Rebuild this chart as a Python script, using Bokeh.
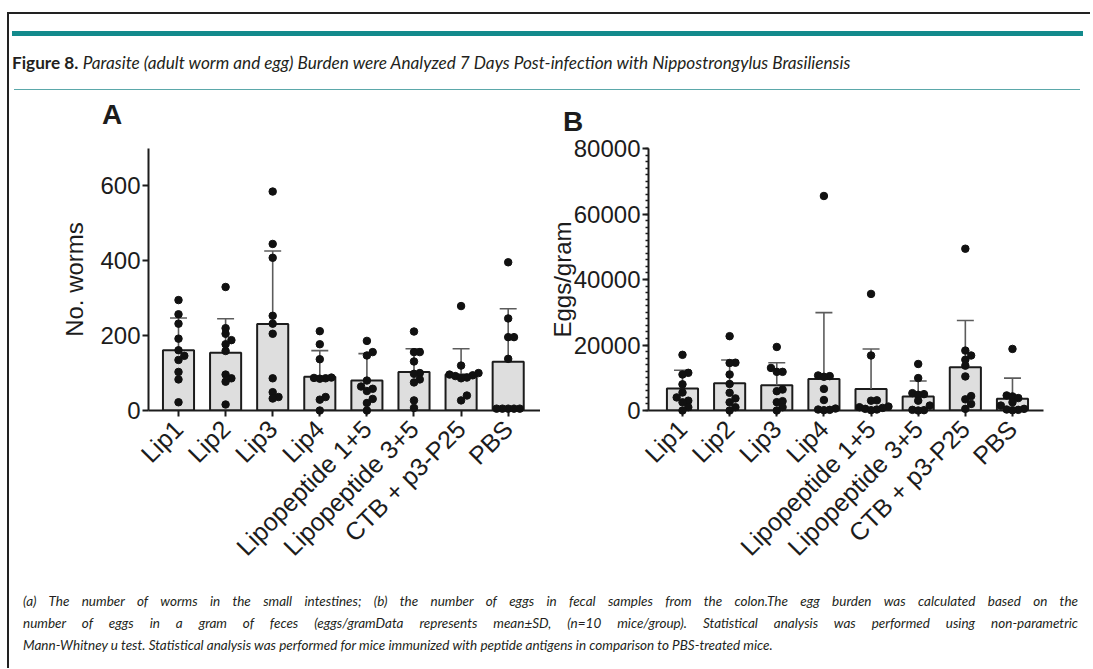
import math
from bokeh.plotting import figure
from bokeh.models import Range1d, FixedTicker, Div
from bokeh.layouts import column, row
from bokeh.embed import file_html
from bokeh.resources import INLINE

# ---------------- data ----------------
groups = ["Lip1", "Lip2", "Lip3", "Lip4", "Lipopeptide 1+5",
          "Lipopeptide 3+5", "CTB + p3-P25", "PBS"]

# Panel A: number of worms
worms_mean = [161, 154, 231, 90, 80, 103, 96, 130]
worms_sd = [86, 91, 195, 70, 72, 62, 69, 142]
worms_lip1 = [295, 257, 232, 192, 161, 146, 135, 103, 83, 22]
worms_lip2 = [330, 220, 205, 188, 177, 159, 96, 86, 77, 16]
worms_lip3 = [585, 445, 408, 253, 232, 205, 86, 49, 36, 32]
worms_lip4 = [212, 177, 137, 88, 87, 86, 85, 36, 29, 0]
worms_lp15 = [186, 156, 147, 80, 64, 58, 52, 31, 20, 0]
worms_lp35 = [211, 156, 156, 131, 100, 98, 83, 75, 27, 7]
worms_ctb = [279, 120, 100, 96, 94, 92, 88, 86, 40, 27]
worms_pbs = [396, 246, 196, 196, 138, 5, 5, 5, 5, 5]
worms_points = [worms_lip1, worms_lip2, worms_lip3, worms_lip4,
                worms_lp15, worms_lp35, worms_ctb, worms_pbs]
worm_ticks = [0, 200, 400, 600]
worm_ymax = 700

# Panel B: eggs per gram
eggs_mean = [6700, 8350, 7700, 9600, 6600, 4300, 13200, 3560]
eggs_sd = [5600, 7050, 6900, 20300, 12200, 4700, 14300, 6340]
eggs_lip1 = [17000, 11500, 11000, 8000, 5500, 4000, 3000, 2500, 1000, 0]
eggs_lip2 = [22700, 14600, 14500, 11000, 8100, 5400, 3700, 2500, 1000, 0]
eggs_lip3 = [19400, 13000, 11800, 11800, 6400, 5900, 2850, 2550, 1000, 0]
eggs_lip4 = [65500, 10700, 10500, 10300, 6600, 3200, 600, 300, 200, 100]
eggs_lp15 = [35600, 16800, 3100, 3000, 1200, 1000, 800, 500, 300, 100]
eggs_lp35 = [14200, 9900, 5300, 5000, 4800, 3000, 1500, 200, 100, 0]
eggs_ctb = [49400, 18300, 16800, 15500, 13700, 10400, 4400, 3400, 2000, 500]
eggs_pbs = [18800, 4600, 4300, 3800, 2500, 1500, 500, 300, 200, 100]
eggs_points = [eggs_lip1, eggs_lip2, eggs_lip3, eggs_lip4,
               eggs_lp15, eggs_lp35, eggs_ctb, eggs_pbs]
egg_ticks = [0, 20000, 40000, 60000, 80000]
egg_minor_step = 2000
egg_ymax = 80000

panel_letters = ["A", "B"]
title_bold = "Figure 8."
title_italic = ("Parasite (adult worm and egg) Burden were Analyzed 7 Days "
                "Post-infection with Nippostrongylus Brasiliensis")
caption_lines = [
    "(a) The number of worms in the small intestines; (b) the number of eggs in fecal samples "
    "from the colon.The egg burden was calculated based on the",
    "number of eggs in a gram of feces (eggs/gramData represents mean\u00b1SD, (n=10 mice/group). "
    "Statistical analysis was performed using non-parametric",
    "Mann-Whitney u test. Statistical analysis was performed for mice immunized with peptide "
    "antigens in comparison to PBS-treated mice.",
]

# ---------------- styling ----------------
FONT = "Liberation Sans"
INK = "#1c1c1c"
MBT, MBB = 12, 164  # top/bottom borders of the panels
FRAME_H = 262
PH = MBT + FRAME_H + MBB   # panel figure height
HEAD_H, CAP_H = 136, 94
W = 1090
X0 = 7              # x of the frame's left rule


def swarm_offsets(vals, py, pxcat, step=5.8, mind=5.5):
    """simple beeswarm: spread overlapping dots horizontally (in pixels)"""
    n = len(vals)
    offs = [0.0] * n
    placed = []
    order = sorted(range(n), key=lambda i: vals[i])
    cands = [0]
    for m in range(1, 14):
        cands += [m, -m]
    for i in order:
        y = vals[i] * py
        x = 0.0
        for c in cands:
            x = c * step
            if all((x - a) ** 2 + (y - b) ** 2 >= mind ** 2 for a, b in placed):
                break
        placed.append((x, y))
        offs[i] = x / pxcat
    return offs


def panel(means, sds, pts, ymax, ticks, ylabel, xr, width, mbl, mbr,
          minor=None, label_standoff=5):
    p = figure(width=width, height=PH, x_range=Range1d(*xr), y_range=Range1d(0, ymax),
               output_backend="svg", toolbar_location=None, title=None,
               min_border_left=mbl, min_border_right=mbr,
               min_border_top=MBT, min_border_bottom=MBB)
    frame_w = width - mbl - mbr
    pxcat = frame_w / (xr[1] - xr[0])
    pyu = FRAME_H / ymax
    xs = list(range(1, len(groups) + 1))

    p.vbar(x=xs, top=means, bottom=0, width=0.66, fill_color="#dedede",
           line_color=INK, line_width=2)
    tops = [m + s for m, s in zip(means, sds)]
    p.segment(x0=xs, y0=means, x1=xs, y1=tops, line_color="#5c5c5c", line_width=1.6)
    p.segment(x0=[x - 0.18 for x in xs], y0=tops, x1=[x + 0.18 for x in xs], y1=tops,
              line_color="#5c5c5c", line_width=1.6)

    dx, dy = [], []
    for i, vals in enumerate(pts):
        offs = swarm_offsets(vals, pyu, pxcat)
        dx += [xs[i] + o for o in offs]
        dy += vals
    p.scatter(dx, dy, size=7.5, color="#111111", level="overlay")

    p.xgrid.visible = False
    p.ygrid.visible = False
    p.outline_line_color = None
    p.background_fill_color = "white"
    p.border_fill_color = "white"

    p.xaxis.ticker = FixedTicker(ticks=xs)
    p.xaxis.major_label_overrides = {x: g for x, g in zip(xs, groups)}
    p.xaxis.major_label_orientation = math.pi / 4
    if minor is not None:
        p.yaxis.ticker = FixedTicker(ticks=ticks, minor_ticks=minor)
    else:
        p.yaxis.ticker = FixedTicker(ticks=ticks)
    p.yaxis.axis_label = ylabel
    for ax in p.axis:
        ax.axis_line_width = 2
        ax.axis_line_color = INK
        ax.major_tick_line_width = 2
        ax.major_tick_line_color = INK
        ax.major_tick_out = 6
        ax.major_tick_in = 0
        ax.minor_tick_line_color = INK
        ax.minor_tick_line_width = 1.5
        ax.minor_tick_out = 3
        ax.minor_tick_in = 0
        ax.major_label_text_font = FONT
        ax.major_label_text_color = INK
        ax.axis_label_text_font = FONT
        ax.axis_label_text_font_size = "24px"
        ax.axis_label_text_font_style = "normal"
        ax.axis_label_text_color = INK
    p.yaxis.major_label_text_font_size = "24px"
    p.yaxis.major_label_standoff = 2
    p.yaxis.axis_label_standoff = label_standoff
    p.xaxis.major_label_text_font_size = "25px"
    p.xaxis.major_label_standoff = 8
    if minor is None:
        p.yaxis.minor_tick_line_color = None
    p.xaxis.minor_tick_line_color = None
    return p


STRIP_W = X0 + 2
pA = panel(worms_mean, worms_sd, worms_points, worm_ymax, worm_ticks, "No. worms",
           (0.363, 8.686), 540 - STRIP_W, 148 - STRIP_W, 0, label_standoff=9)
egg_minor = list(range(0, egg_ymax + 1, egg_minor_step))
pB = panel(eggs_mean, eggs_sd, eggs_points, egg_ymax, egg_ticks, "Eggs/gram",
           (0.279, 8.658), 545, 108, 42, minor=egg_minor, label_standoff=-5)

letter_css = (f"position:absolute;font-family:'{FONT}';font-weight:bold;font-size:28px;"
              f"line-height:22px;color:{INK};")
header_html = f"""
<div style="position:relative;width:{W}px;height:{HEAD_H}px;overflow:hidden;background:white;">
  <div style="position:absolute;left:{X0}px;top:12px;width:{W - X0}px;height:2px;background:#222;"></div>
  <div style="position:absolute;left:{X0}px;top:12px;width:2px;height:{HEAD_H}px;background:#222;"></div>
  <div style="position:absolute;left:12px;top:31px;width:1071px;height:5px;background:#138a8c;"></div>
  <div style="position:absolute;left:12px;top:51px;white-space:nowrap;font-family:Lato;font-size:17.2px;color:#231f20;">
    <span style="font-weight:bold;">{title_bold}</span> <span style="font-style:italic;">{title_italic}</span>
  </div>
  <div style="position:absolute;left:14px;top:89px;width:1066px;height:1px;background:#5ba8aa;"></div>
  <div style="{letter_css}left:102px;top:104px;">{panel_letters[0]}</div>
  <div style="{letter_css}left:563px;top:111px;">{panel_letters[1]}</div>
</div>
"""
header = Div(text=header_html, width=W, height=HEAD_H, margin=0)

strip = Div(text=f'<div style="margin-left:{X0}px;width:2px;height:{PH}px;background:#222;"></div>',
            width=STRIP_W, height=PH, margin=0)

cap_rows = []
for k, line in enumerate(caption_lines):
    just = "text-align:justify;text-align-last:justify;" if k < len(caption_lines) - 1 else ""
    cap_rows.append(f'<div style="white-space:nowrap;{just}">{line}</div>')
caption_html = f"""
<div style="position:relative;width:{W}px;height:{CAP_H}px;overflow:hidden;background:white;">
  <div style="position:absolute;left:{X0}px;top:0;width:2px;height:{CAP_H}px;background:#222;"></div>
  <div style="position:absolute;left:23px;top:16px;width:1055px;font-family:Lato;font-style:italic;
              font-size:13.5px;line-height:22px;color:#231f20;">
    {''.join(cap_rows)}
  </div>
</div>
"""
caption = Div(text=caption_html, width=W, height=CAP_H, margin=0)

layout = column(header, row(strip, pA, pB), caption)
open("out.html", "w").write(file_html(layout, INLINE))
